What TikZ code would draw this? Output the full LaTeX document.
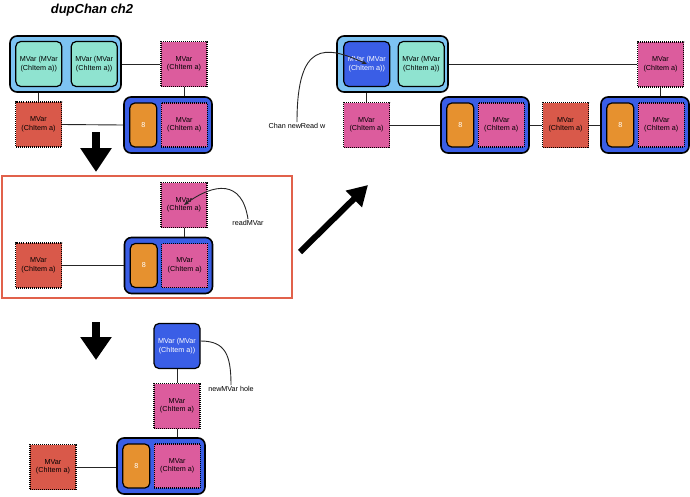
\documentclass[tikz,border=0pt]{standalone}
\usepackage{fontspec}
\setmainfont{Liberation Sans}
\usetikzlibrary{arrows.meta,positioning}

\begin{document}
\begin{tikzpicture}[x=1pt, y=-1pt,
  box/.style={minimum width=46pt, minimum height=45pt, inner sep=1pt, align=center, font=\fontsize{7.2}{8.5}\selectfont, text=black},
  mvp/.style={box, fill=zPink, draw=black, line width=1.2pt, dash pattern=on 1pt off 1pt},
  mvr/.style={mvp, fill=zRed},
  cell/.style={box, rounded corners=5pt, draw=black, line width=1.2pt, fill=zTeal},
  cellb/.style={cell, fill=zBlue, text=white},
  chan/.style={rounded corners=7pt, draw=black, line width=1.6pt, fill=zSky, minimum width=111pt, minimum height=56pt},
  buf/.style={rounded corners=7pt, draw=black, line width=1.6pt, fill=zBlue, minimum width=88pt, minimum height=56pt},
  eight/.style={rounded corners=5pt, draw=black, line width=1.2pt, fill=zOrg, minimum width=27pt, minimum height=44pt, text=white, font=\fontsize{7.2}{8}\selectfont},
  link/.style={line width=0.9pt, black!85},
  tip/.style={-{Stealth[length=5pt,width=4pt]}},
  lbl/.style={font=\fontsize{7.2}{8}\selectfont, text=black, inner sep=1pt},
]
\definecolor{zSky}{HTML}{7DC3F2}\definecolor{zTeal}{HTML}{8FE3D0}\definecolor{zPink}{HTML}{DC5C9D}
\definecolor{zRed}{HTML}{D9594A}\definecolor{zBlue}{HTML}{3A5EE6}\definecolor{zOrg}{HTML}{E6912F}
\definecolor{zFrame}{HTML}{E1614B}
\useasboundingbox (0,0) rectangle (690,496);
% title
\node[font=\fontsize{13}{15}\selectfont\bfseries\itshape] (TT) at (92,10) {dupChan ch2};
% ---- step 1 ----
\node[chan] (H1) at (65.5,64) {};
\node[cell, anchor=west] (T1a) at ([xshift=6pt]H1.west) {MVar (MVar\\(ChItem a))};
\node[cell, anchor=east] (T1b) at ([xshift=-4pt]H1.east) {MVar (MVar\\(ChItem a))};
\node[mvp] (P1) at (184,64) {MVar\\(ChItem a)};
\node[mvr] (R1) at (38.5,124.5) {MVar\\(ChItem a)};
\node[buf] (B1) at (168,125) {};
\node[eight, anchor=west] (E1) at ([xshift=6pt]B1.west) {8};
\node[mvp, anchor=east, minimum height=44pt] (Q1) at ([xshift=-5pt]B1.east) {MVar\\(ChItem a)};
\draw[link] (H1.east) -- (P1.west);
\draw[link] (R1.north |- H1.south) -- (R1.north);
\draw[link] (R1.east) -- (B1.west);
\draw[link] (P1.south) -- (P1.south |- B1.north);
% ---- step 2 (readMVar) ----
\draw[zFrame, line width=2pt] (2,176) rectangle (292,298);
\node[mvp] (P2) at (184,205) {MVar\\(ChItem a)};
\node[mvr] (R2) at (38.5,265.5) {MVar\\(ChItem a)};
\node[buf] (B2) at (168.5,265.5) {};
\node[eight, anchor=west] (E2) at ([xshift=6pt]B2.west) {8};
\node[mvp, anchor=east, minimum height=44pt] (Q2) at ([xshift=-5pt]B2.east) {MVar\\(ChItem a)};
\node[lbl] (RD) at (248,223) {readMVar};
\draw[link] (P2.south) -- (P2.south |- B2.north);
\draw[link] (R2.east) -- (B2.west);
\draw[link, tip] (RD.north) .. controls +(-6,-40) and +(30,-22) .. (P2.center);
% ---- step 3 (newMVar) ----
\node[cellb] (NM) at (177,346) {MVar (MVar\\(ChItem a))};
\node[mvp] (P3) at (177,406) {MVar\\(ChItem a)};
\node[buf] (B3) at (161,466) {};
\node[eight, anchor=west] (E3) at ([xshift=6pt]B3.west) {8};
\node[mvp, anchor=east, minimum height=44pt] (Q3) at ([xshift=-5pt]B3.east) {MVar\\(ChItem a)};
\node[mvr] (R3) at (53,467) {MVar\\(ChItem a)};
\node[lbl] (NH) at (231,389) {newMVar hole};
\draw[link] (NM.south) -- (P3.north);
\draw[link] (P3.south) -- (P3.south |- B3.north);
\draw[link] (R3.east) -- (R3.east -| B3.west);
\draw[link] ([yshift=5pt]NM.east) .. controls +(25,0) and +(0,-30) .. (NH.north);
% ---- result ----
\node[chan] (H4) at (392.5,64) {};
\node[cellb, anchor=west] (NB) at ([xshift=7pt]H4.west) {MVar (MVar\\(ChItem a))};
\node[cell, anchor=east] (T4) at ([xshift=-4pt]H4.east) {MVar (MVar\\(ChItem a))};
\node[mvp] (P4t) at (660.5,64.5) {MVar\\(ChItem a)};
\node[mvp] (P4) at (366.5,125) {MVar\\(ChItem a)};
\node[buf] (B4a) at (485,125) {};
\node[eight, anchor=west] (E4a) at ([xshift=6pt]B4a.west) {8};
\node[mvp, anchor=east, minimum height=44pt] (Q4a) at ([xshift=-5pt]B4a.east) {MVar\\(ChItem a)};
\node[mvr] (R4) at (565.5,125) {MVar\\(ChItem a)};
\node[buf] (B4b) at (645,125) {};
\node[eight, anchor=west] (E4b) at ([xshift=6pt]B4b.west) {8};
\node[mvp, anchor=east, minimum height=44pt] (Q4b) at ([xshift=-5pt]B4b.east) {MVar\\(ChItem a)};
\node[lbl] (NR) at (297,126) {Chan newRead w};
\draw[link] (H4.east) -- (H4.east -| P4t.west);
\draw[link] (P4.north |- H4.south) -- (P4.north);
\draw[link] (P4.east) -- (B4a.west);
\draw[link] (B4a.east) -- (R4.west);
\draw[link] (R4.east) -- (B4b.west);
\draw[link] (P4t.south) -- (P4t.south |- B4b.north);
\draw[link, tip] (NR.north) .. controls +(0,-81) and +(-42,-19) .. (NB.center);
% ---- big arrows ----
\coordinate (D1s) at (96,132); \coordinate (D1e) at (96,172);
\coordinate (D2s) at (96,322); \coordinate (D2e) at (96,360);
\coordinate (G1s) at (300,252); \coordinate (G1e) at (368,185);
\draw[line width=8pt, -{Triangle[length=24pt,width=30pt]}] (D1s) -- (D1e);
\draw[line width=8pt, -{Triangle[length=23pt,width=30pt]}] (D2s) -- (D2e);
\draw[line width=6pt, -{Triangle[length=20pt,width=22pt]}] (G1s) -- (G1e);
\end{tikzpicture}
\end{document}
